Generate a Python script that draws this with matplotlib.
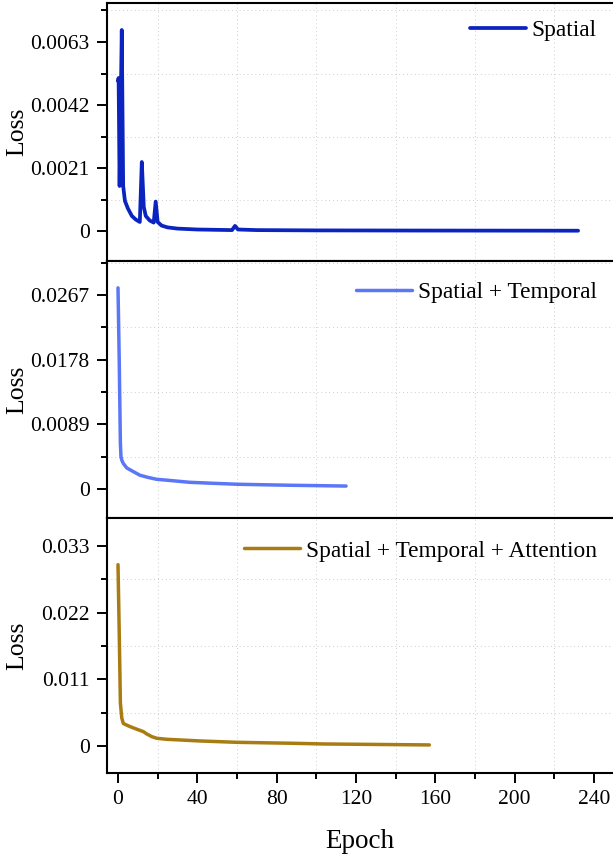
import numpy as np
import matplotlib
matplotlib.use('Agg')
from matplotlib import pyplot as plt
from matplotlib.ticker import FixedLocator

plt.rcParams['font.family'] = ['Liberation Serif', 'DejaVu Serif']

# ---------------- data ----------------
spatial_epoch = [0, 0.3, 0.8, 1.9, 2.6, 3.5, 5, 7, 9, 11, 12, 13, 14, 16, 18, 19,
                 20, 22, 25, 30, 40, 57.5, 59, 60.5, 70, 100, 150, 232]
spatial_loss = [0.0050, 0.0051, 0.0015, 0.0067, 0.0015, 0.0010, 0.00075, 0.0005,
                0.00038, 0.0003, 0.0023, 0.0008, 0.0005, 0.00035, 0.00028, 0.00098,
                0.0003, 0.00018, 0.00012, 0.00008, 0.00005, 0.00003, 0.00017,
                0.00005, 0.00003, 0.00002, 0.000015, 0.00001]

st_epoch = [0, 0.6, 1.2, 1.5, 2.0, 2.7, 4.4, 7, 11, 15, 19.5, 25, 36, 48, 60,
            75, 87, 100, 115]
st_loss = [0.0277, 0.018, 0.0063, 0.0044, 0.0039, 0.0035, 0.0029, 0.0025, 0.0019,
           0.0016, 0.00133, 0.0012, 0.00092, 0.00078, 0.00065, 0.00057, 0.00051,
           0.00046, 0.0004]

sta_epoch = [0, 0.6, 1.2, 1.9, 2.7, 6, 10, 12.8, 14.5, 17, 19.5, 24.5, 41, 60,
             87, 103.5, 130, 157]
sta_loss = [0.0299, 0.019, 0.0071, 0.0046, 0.0037, 0.0032, 0.0027, 0.00236,
            0.00198, 0.00154, 0.00127, 0.0011, 0.00083, 0.0006, 0.00045,
            0.00033, 0.00025, 0.00017]

names = ['Spatial', 'Spatial + Temporal', 'Spatial + Temporal + Attention']
colors = ['#0B24BF', '#5B77F7', '#A87C12']
yticks = [[0, 0.0021, 0.0042, 0.0063],
          [0, 0.0089, 0.0178, 0.0267],
          [0, 0.011, 0.022, 0.033]]
ytick_labels = [['0', '0.0021', '0.0042', '0.0063'],
                ['0', '0.0089', '0.0178', '0.0267'],
                ['0', '0.011', '0.022', '0.033']]
ylims = [(-0.001, 0.0076), (-0.0040, 0.0314), (-0.00446, 0.0376)]
xticks = [0, 40, 80, 120, 160, 200, 240]

# ---------------- figure ----------------
fig = plt.figure(figsize=(6.13, 8.58), dpi=100)

# panel boxes in pixels from the top: (top, bottom)
W, H = 613.0, 858.0
boxes = [(3, 261), (261, 518), (518, 773)]
left, right = 107 / W, 1.0

series = [(spatial_epoch, spatial_loss), (st_epoch, st_loss), (sta_epoch, sta_loss)]
leg_y = [0.895, 0.879, 0.871]

axes = []
for i, (top, bot) in enumerate(boxes):
    ax = fig.add_axes([left, 1 - bot / H, right - left, (bot - top) / H])
    axes.append(ax)
    x, y = series[i]
    ax.plot(x, y, color=colors[i], lw=2.7 if i == 0 else 2.5,
            solid_joinstyle='round', solid_capstyle='round', label=names[i])

    ax.set_xlim(-5.55, 249.6)
    ax.set_ylim(*ylims[i])

    # y ticks
    ax.yaxis.set_major_locator(FixedLocator(yticks[i]))
    ax.set_yticklabels(ytick_labels[i])
    step = yticks[i][1] / 2
    ax.yaxis.set_minor_locator(FixedLocator(np.arange(step, ylims[i][1], 2 * step)))

    # x ticks
    ax.xaxis.set_major_locator(FixedLocator(xticks))
    ax.xaxis.set_minor_locator(FixedLocator(np.arange(20, 250, 40)))

    # dotted grid on the minor ticks only
    ax.grid(which='minor', ls=(0, (1, 3)), lw=0.7, color='#cccccc')
    ax.grid(which='major', visible=False)

    ax.tick_params(which='major', direction='out', length=7.5, width=1.4,
                   labelsize=15.5, pad=5)
    ax.tick_params(which='minor', direction='out', length=4, width=1.4)
    ax.tick_params(axis='x', top=False)
    ax.tick_params(axis='y', right=False)

    for s in ['left', 'bottom', 'top']:
        ax.spines[s].set_linewidth(1.5)
    ax.spines['right'].set_visible(False)

    if i < 2:
        ax.tick_params(axis='x', which='both', bottom=False, labelbottom=False)

    ax.set_ylabel('Loss', fontsize=18.5)
    ax.yaxis.set_label_coords(-0.155, 0.5)

    ax.legend(loc='center right', bbox_to_anchor=(0.968, leg_y[i]),
              frameon=False, fontsize=16.8, handlelength=2.4,
              handletextpad=0.25, borderpad=0, borderaxespad=0)

axes[2].set_xlabel('Epoch', fontsize=19.5, labelpad=14)

plt.savefig('out.png', dpi=100)
